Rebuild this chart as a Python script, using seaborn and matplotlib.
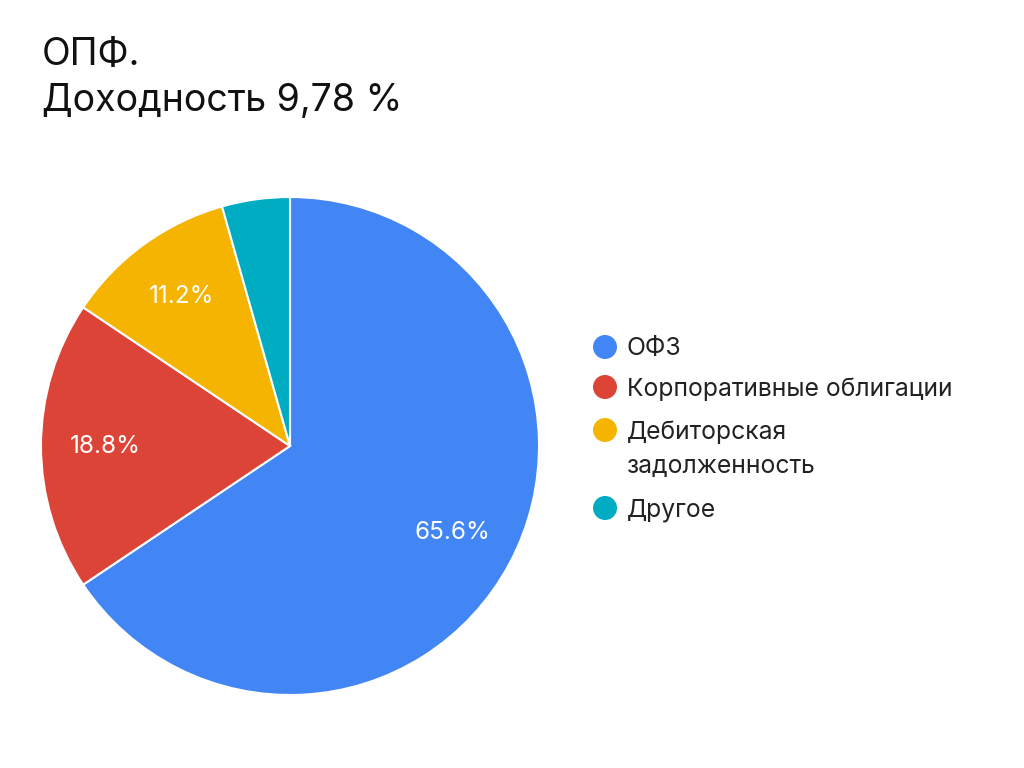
import matplotlib
matplotlib.use("Agg")
import matplotlib.pyplot as plt
import seaborn as sns
import numpy as np
from matplotlib.patches import Ellipse

categories = ["ОФЗ", "Корпоративные облигации", "Дебиторская\nзадолженность", "Другое"]
values = [65.6, 18.8, 11.2, 4.4]
pct_labels = ["65.6%", "18.8%", "11.2%", ""]
colors = ["#4285F4", "#DB4437", "#F4B400", "#00ACC1"]
title_line1 = "ОПФ."
title_line2 = "Доходность 9,78 %"

sns.set_theme(style="white")
plt.rcParams['font.family'] = ['Inter', 'DejaVu Sans']
sns.set_palette(colors)

W, H = 1024, 768
fig = plt.figure(figsize=(W / 100, H / 100), dpi=100)

cx, cy, r = 290, 446, 249
ax = fig.add_axes([(cx - r) / W, (H - cy - r) / H, 2 * r / W, 2 * r / H])
wedges, _ = ax.pie(values, colors=sns.color_palette(colors), startangle=90, counterclock=False,
                   radius=1.0, wedgeprops=dict(edgecolor="white", linewidth=1.5))
ax.set_xlim(-1, 1)
ax.set_ylim(-1, 1)
ax.set_aspect("equal")
ax.axis("off")

start = 90.0
for v, lab in zip(values, pct_labels):
    ang = start - v / 100 * 360 / 2
    start -= v / 100 * 360
    if lab:
        d = 0.74
        ax.text(d * np.cos(np.radians(ang)), d * np.sin(np.radians(ang)), lab,
                ha="center", va="center", color="white", fontsize=17.5)

fig.text(42 / W, 1 - 65 / H, title_line1, fontsize=27, color="#111111", ha="left", va="baseline")
fig.text(42 / W, 1 - 111 / H, title_line2, fontsize=27, color="#111111", ha="left", va="baseline")

# legend
ys = [347, 387, 430, 508]
for cat, col, y in zip(categories, colors, ys):
    fig.patches.append(Ellipse((605 / W, 1 - y / H), 24 / W, 24 / H, transform=fig.transFigure,
                               facecolor=col, edgecolor="none"))
    fig.text(627 / W, 1 - (y - 10) / H, cat, fontsize=17.8, color="#222222", ha="left", va="top",
             linespacing=1.62)

fig.savefig("out.png", dpi=100, facecolor="white")
